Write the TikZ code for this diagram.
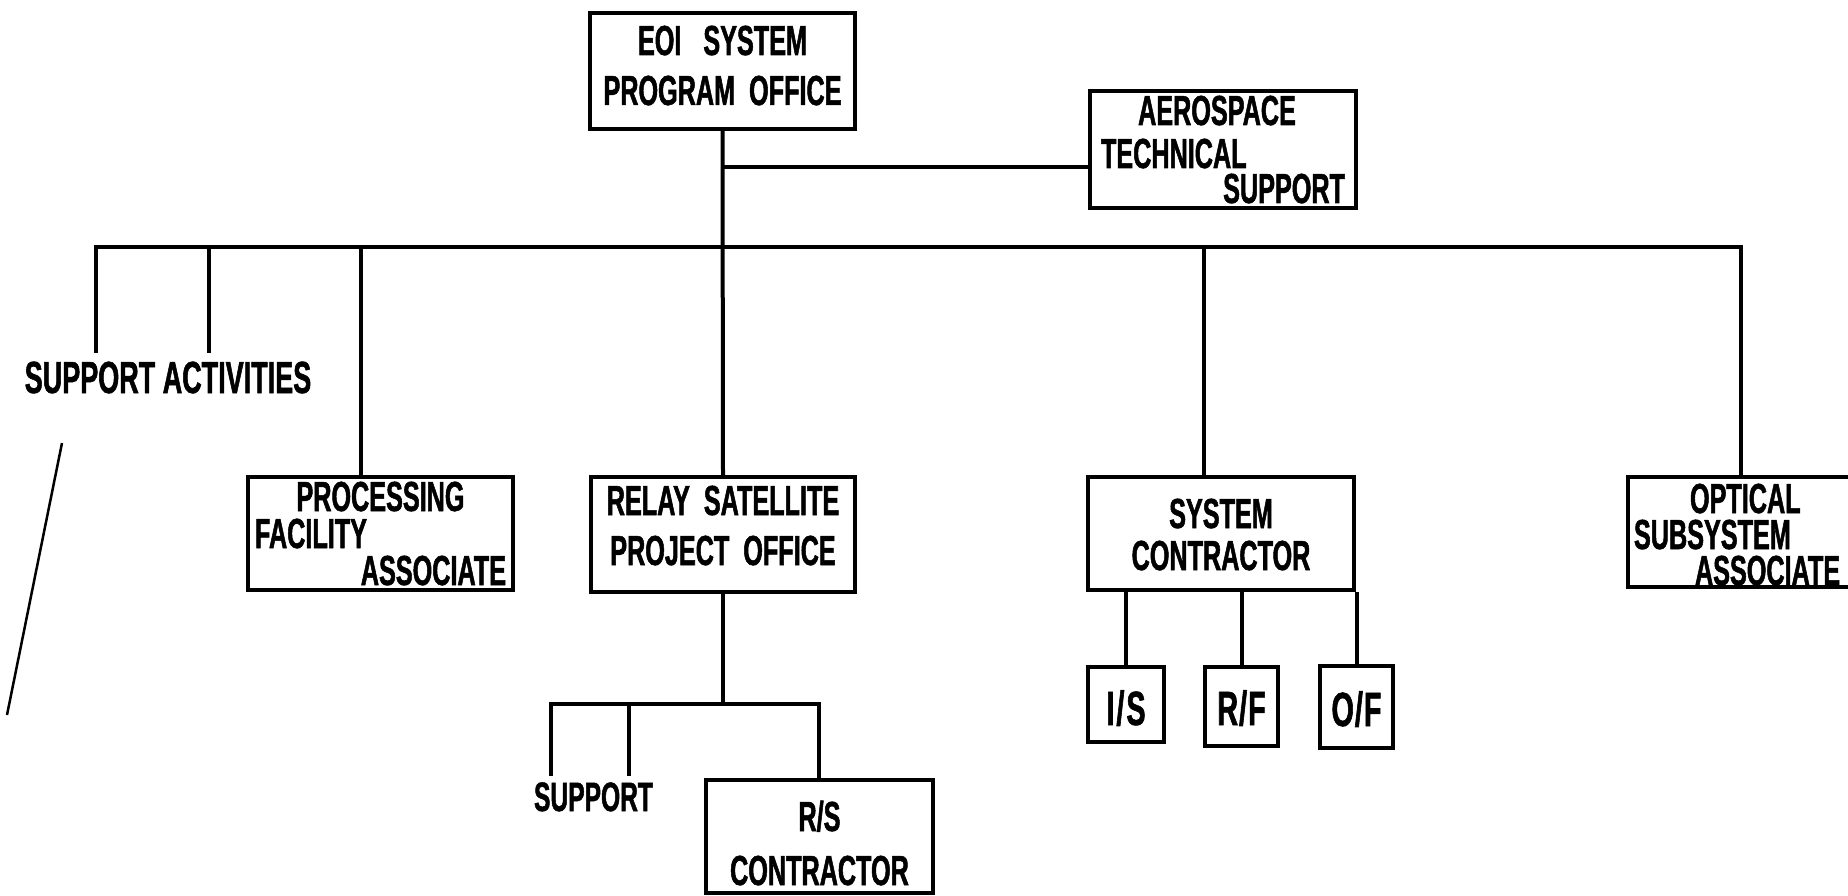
\documentclass[tikz,border=0pt]{standalone}
\usepackage{fontspec}
\newfontfamily\cond{Liberation Sans}[FakeStretch=0.60, FakeBold=1.2]
\newcommand\lnC[1]{\leavevmode\hfill#1\hfill\null}
\newcommand\lnR[1]{\leavevmode\hfill#1}
\newcommand\lnI[2]{\leavevmode\hspace*{#1}#2}
\tikzset{
  box/.style={draw, line width=4pt, inner sep=0pt, text height=0pt,
    font=\cond\bfseries\fontsize{42}{50}\selectfont},
  smallbox/.style={draw, line width=4pt, inner sep=0pt, text depth=0pt,
    font=\cond\bfseries\fontsize{48}{50}\selectfont},
  conn/.style={line width=4pt, line join=miter},
  lbl/.style={inner xsep=0pt, anchor=base, text depth=0pt},
  stray/.style={line width=2.5pt}
}
\begin{document}
\begin{tikzpicture}[x=1pt,y=-1pt]
\useasboundingbox (0,0) rectangle (1848,896);
\clip (0,0) rectangle (1848,896);
\fill[white] (0,0) rectangle (1848,896);

% boxes
\node[box, minimum width=265pt, minimum height=116pt, text width=245pt, align=center, text depth=32pt] (eoi) at (722.5,71) {EOI\hspace{22pt}SYSTEM\\PROGRAM OFFICE};
\node[box, minimum width=266pt, minimum height=117pt, text width=244pt, align=left, text depth=49pt,
  font=\cond\bfseries\fontsize{42}{43}\selectfont] (aero) at (1223,149.5)
  {\lnC{AEROSPACE\hspace{12pt}}\\TECHNICAL\\[-8pt]\lnR{SUPPORT}};
\node[box, minimum width=265pt, minimum height=113pt, text width=251pt, align=left, text depth=45pt,
  font=\cond\bfseries\fontsize{42}{37}\selectfont] (proc) at (380.5,533.5)
  {\lnC{PROCESSING}\\FACILITY\\\lnR{ASSOCIATE}};
\node[box, minimum width=264pt, minimum height=115pt, text width=250pt, align=center, text depth=39pt] (relay) at (723,534.5)
  {RELAY SATELLITE\\PROJECT OFFICE};
\node[box, minimum width=266pt, minimum height=113pt, text width=250pt, align=center, text depth=11pt,
  font=\cond\bfseries\fontsize{42}{42}\selectfont] (sysc) at (1221,533.5)
  {SYSTEM\\CONTRACTOR};
\node[box, minimum width=267pt, minimum height=110pt, text width=255pt, align=left, text depth=38pt,
  font=\cond\bfseries\fontsize{42}{36}\selectfont] (opt) at (1761.5,532)
  {\lnI{56pt}{OPTICAL}\\SUBSYSTEM\\\lnI{61pt}{ASSOCIATE}};
\node[box, minimum width=227pt, minimum height=113pt, text width=215pt, align=center, text depth=11pt,
  font=\cond\bfseries\fontsize{42}{54}\selectfont] (rs) at (819.5,836.5)
  {R/S\\CONTRACTOR};
\node[smallbox, minimum width=76pt, minimum height=75pt, text height=41pt] (is) at (1126,704.5) {I\kern2pt/\kern2pt S};
\node[smallbox, minimum width=73pt, minimum height=79pt, text height=37pt] (rf) at (1241.5,706.5) {R\kern1pt/\kern1pt F};
\node[smallbox, minimum width=73pt, minimum height=82pt, text height=38pt] (of) at (1356.5,707) {O\kern1pt/\kern1pt F};

% free labels
\node[lbl, font=\cond\bfseries\fontsize{45}{50}\selectfont, text height=31pt, inner ysep=9pt] (sa) at (168,393) {SUPPORT ACTIVITIES};
\node[lbl, font=\cond\bfseries\fontsize{41}{50}\selectfont, text height=27pt, inner ysep=8pt] (sup) at (593.5,811) {SUPPORT};

% junction points
\coordinate (ab) at (723,167);
\coordinate (busL) at (96,247);
\coordinate (busA) at (209,247);
\coordinate (busP) at (361,247);
\coordinate (busS) at (1204,247);
\coordinate (busR) at (1741,247);
\coordinate (sbL) at (551,704);
\coordinate (sbM) at (629,704);
\coordinate (sbC) at (723,704);
\coordinate (sbR) at (819,704);

% connectors
\draw[conn] (eoi.south) -- (relay.north);
\draw[conn] (ab) -- (ab -| aero.west);
\draw[conn] (busL |- sa.north) -- (busL) -- (busR) -- (busR |- opt.north);
\draw[conn] (busA) -- (busA |- sa.north);
\draw[conn] (busP) -- (busP |- proc.north);
\draw[conn] (busS) -- (busS |- sysc.north);
\draw[conn] (relay.south) -- (sbC);
\draw[conn] (sbL |- sup.north) -- (sbL) -- (sbR) -- (sbR |- rs.north);
\draw[conn] (sbM) -- (sbM |- sup.north);
\draw[conn] (is.north |- sysc.south) -- (is.north);
\draw[conn] (rf.north |- sysc.south) -- (rf.north);
\draw[conn] (of.north |- sysc.south) -- (of.north);

% stray slanted stroke at the left margin
\draw[stray] (62,443) -- (7,715);
\end{tikzpicture}
\end{document}
